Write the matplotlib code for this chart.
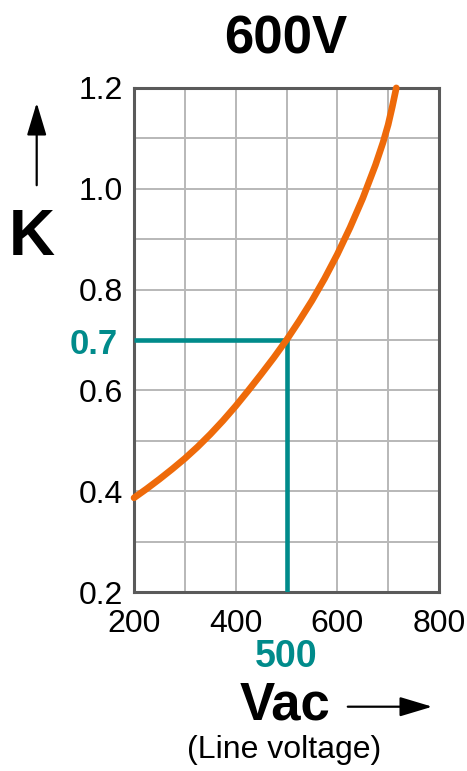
import matplotlib
matplotlib.use("Agg")
import matplotlib.pyplot as plt
from matplotlib.patches import FancyArrowPatch

plt.rcParams["font.family"] = ["Liberation Sans", "DejaVu Sans"]

# curve: line voltage (V) -> K
vac = [200, 225, 250, 275, 300, 325, 350, 375, 400, 425, 450, 475, 500,
       525, 550, 575, 600, 625, 650, 675, 690, 700, 708, 716]
k = [0.387, 0.405, 0.424, 0.444, 0.465, 0.488, 0.513, 0.540, 0.569, 0.600,
     0.632, 0.665, 0.700, 0.738, 0.778, 0.822, 0.870, 0.923, 0.981, 1.047,
     1.092, 1.127, 1.162, 1.200]

# worked example marker
ex_v = 500
ex_k = 0.7

x_grid = [200, 300, 400, 500, 600, 700, 800]
x_labels = ["200", "", "400", "", "600", "", "800"]
y_grid = [0.2, 0.3, 0.4, 0.5, 0.6, 0.7, 0.8, 0.9, 1.0, 1.1, 1.2]
y_labels = ["0.2", "", "0.4", "", "0.6", "", "0.8", "", "1.0", "", "1.2"]

ORANGE = "#EE6A0A"
TEAL = "#008B8B"

fig = plt.figure(figsize=(4.67, 7.71), dpi=100)
ax = fig.add_axes([0.287, 0.232, 0.653, 0.654])

ax.set_xlim(200, 800)
ax.set_ylim(0.2, 1.2)
ax.set_xticks(x_grid)
ax.set_xticklabels(x_labels)
ax.set_yticks(y_grid)
ax.set_yticklabels(y_labels)
ax.tick_params(length=0, labelsize=23)
ax.tick_params(axis="x", pad=12.5)
ax.tick_params(axis="y", pad=8)
ax.grid(True, color="#B8B8B8", linewidth=1.4)
ax.set_axisbelow(True)
for s in ax.spines.values():
    s.set_color("#5A5A5A")
    s.set_linewidth(2.2)

# example lines
ax.plot([200, ex_v], [ex_k, ex_k], color=TEAL, linewidth=3.3, solid_capstyle="butt", zorder=3)
ax.plot([ex_v, ex_v], [0.2, ex_k], color=TEAL, linewidth=3.3, solid_capstyle="butt", zorder=3)

ax.plot(vac, k, color=ORANGE, linewidth=4.8, solid_capstyle="round", zorder=4, clip_on=False)

fig.text(118 / 467, 1 - 354 / 771, f"{ex_k}", ha="right", va="baseline",
         fontsize=25, fontweight="bold", color=TEAL)
fig.text(286.5 / 467, 1 - 667 / 771, f"{ex_v}", ha="center", va="baseline",
         fontsize=27, fontweight="bold", color=TEAL)

fig.text(286 / 467, 1 - 53 / 771, "600V", ha="center", va="baseline", fontsize=38, fontweight="bold")

# K axis label with arrow
fig.text(31.7 / 467, 1 - 255 / 771, "K", ha="center", va="baseline", fontsize=46, fontweight="bold")
fig.patches.append(FancyArrowPatch(
    (36.7 / 467, 1 - 188 / 771), (36.7 / 467, 1 - 100 / 771), transform=fig.transFigure,
    arrowstyle="-|>,head_length=1.0,head_width=0.3", mutation_scale=20, color="black", linewidth=1.6))

# Vac label with arrow
fig.text(285 / 467, 1 - 720 / 771, "Vac", ha="center", va="baseline", fontsize=38, fontweight="bold")
fig.patches.append(FancyArrowPatch(
    (345 / 467, 1 - 706.7 / 771), (435 / 467, 1 - 706.7 / 771), transform=fig.transFigure,
    arrowstyle="-|>,head_length=1.0,head_width=0.3", mutation_scale=20, color="black", linewidth=1.6))
fig.text(284 / 467, 1 - 758 / 771, "(Line voltage)", ha="center", va="baseline", fontsize=23)

fig.savefig("out.png", dpi=100)
